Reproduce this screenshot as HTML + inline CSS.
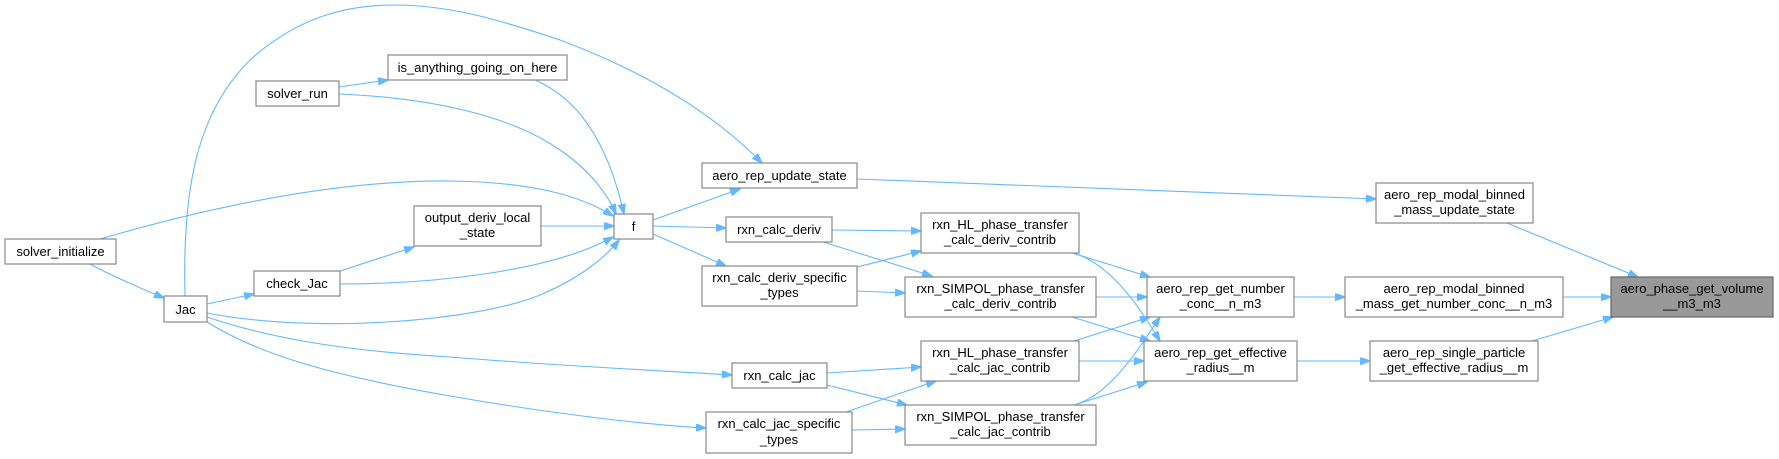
<!DOCTYPE html>
<html><head><meta charset="utf-8"><style>
html,body{margin:0;padding:0;background:#fff;}
svg{display:block;}
text{font-family:"Liberation Sans",Arial,sans-serif;font-size:13px;fill:#000;text-anchor:middle;}
.e{fill:none;stroke:#63b8ff;stroke-width:1.1;marker-end:url(#a);}
.n{fill:#fff;stroke:#888;stroke-width:1.2;}
</style></head><body>
<svg width="1779" height="459" viewBox="0 0 1779 459" xmlns="http://www.w3.org/2000/svg">
<defs><marker id="a" markerWidth="11" markerHeight="8" refX="10" refY="3.7" orient="auto" markerUnits="userSpaceOnUse"><path d="M0,0 L10.5,3.7 L0,7.4 z" fill="#63b8ff" stroke="#63b8ff"/></marker></defs>
<g>
<path class="e" d="M90,264 C110,275 140,288 164,298"/>
<path class="e" d="M100,239 C200,210 330,180 450,181 C530,182 580,195 613,216"/>
<path class="e" d="M207,304 L254,294"/>
<path class="e" d="M207,313 C320,335 480,320 540,295 C580,278 605,258 619,240"/>
<path class="e" d="M207,317 C260,335 330,350 450,357 C560,366 650,370 732,375"/>
<path class="e" d="M207,322 C260,355 330,375 450,396 C560,415 650,425 706,428"/>
<path class="e" d="M185,296 C182,180 200,110 250,60 C300,15 350,5 394,5 C450,5 500,20 560,40 C640,70 710,110 762,163"/>
<path class="e" d="M339,87 L388,80"/>
<path class="e" d="M339,94 C430,98 510,115 560,150 C590,170 608,195 616,214"/>
<path class="e" d="M535,80 C570,95 605,130 624,214"/>
<path class="e" d="M340,271 L414,247"/>
<path class="e" d="M340,284 C430,284 550,272 613,237"/>
<path class="e" d="M541,226 L614,226"/>
<path class="e" d="M653,220 L740,189"/>
<path class="e" d="M653,226 L726,228"/>
<path class="e" d="M653,234 L726,266"/>
<path class="e" d="M832,230 L921,231"/>
<path class="e" d="M823,242 L932,276"/>
<path class="e" d="M857,267 L921,251"/>
<path class="e" d="M857,291 L905,293"/>
<path class="e" d="M827,373 L921,367"/>
<path class="e" d="M827,385 L907,405"/>
<path class="e" d="M843,413 L936,381"/>
<path class="e" d="M852,430 L905,429"/>
<path class="e" d="M1072,253 L1150,277"/>
<path class="e" d="M1074,253 C1110,265 1135,300 1160,341"/>
<path class="e" d="M1096,297 L1147,297"/>
<path class="e" d="M1072,317 L1150,341"/>
<path class="e" d="M1074,341 L1150,317"/>
<path class="e" d="M1079,361 L1144,361"/>
<path class="e" d="M1074,405 C1110,395 1138,350 1160,317"/>
<path class="e" d="M1074,405 L1147,382"/>
<path class="e" d="M1294,297 L1345,297"/>
<path class="e" d="M1297,361 L1370,361"/>
<path class="e" d="M857,179 L1376,199"/>
<path class="e" d="M1507,223 L1638,277"/>
<path class="e" d="M1563,297 L1611,297"/>
<path class="e" d="M1532,341 L1613,317"/>
</g>
<g>
<rect class="n" x="5" y="239" width="111" height="25"/><text x="60.5" y="256">solver_initialize</text>
<rect class="n" x="164" y="296" width="43" height="26"/><text x="185.5" y="314">Jac</text>
<rect class="n" x="256" y="81" width="83" height="25"/><text x="297.5" y="98">solver_run</text>
<rect class="n" x="388" y="55" width="179" height="25"/><text x="477.5" y="72">is_anything_going_on_here</text>
<rect class="n" x="254" y="271" width="86" height="25"/><text x="297" y="288">check_Jac</text>
<rect class="n" x="414" y="206" width="127" height="40"/><text x="477.5" y="222">output_deriv_local</text><text x="477.5" y="237">_state</text>
<rect class="n" x="614" y="214" width="39" height="25"/><text x="633.5" y="231">f</text>
<rect class="n" x="702" y="163" width="155" height="25"/><text x="779.5" y="180">aero_rep_update_state</text>
<rect class="n" x="726" y="217" width="106" height="25"/><text x="779" y="234">rxn_calc_deriv</text>
<rect class="n" x="702" y="266" width="155" height="40"/><text x="779.5" y="282">rxn_calc_deriv_specific</text><text x="779.5" y="297">_types</text>
<rect class="n" x="732" y="363" width="95" height="25"/><text x="779.5" y="380">rxn_calc_jac</text>
<rect class="n" x="706" y="412" width="146" height="41"/><text x="779" y="428">rxn_calc_jac_specific</text><text x="779" y="444">_types</text>
<rect class="n" x="921" y="213" width="158" height="40"/><text x="1000" y="229">rxn_HL_phase_transfer</text><text x="1000" y="244">_calc_deriv_contrib</text>
<rect class="n" x="905" y="277" width="191" height="40"/><text x="1000.5" y="293">rxn_SIMPOL_phase_transfer</text><text x="1000.5" y="308">_calc_deriv_contrib</text>
<rect class="n" x="921" y="341" width="158" height="40"/><text x="1000" y="357">rxn_HL_phase_transfer</text><text x="1000" y="372">_calc_jac_contrib</text>
<rect class="n" x="905" y="405" width="191" height="40"/><text x="1000.5" y="421">rxn_SIMPOL_phase_transfer</text><text x="1000.5" y="436">_calc_jac_contrib</text>
<rect class="n" x="1147" y="277" width="147" height="40"/><text x="1220.5" y="293">aero_rep_get_number</text><text x="1220.5" y="308">_conc__n_m3</text>
<rect class="n" x="1144" y="341" width="153" height="40"/><text x="1220.5" y="357">aero_rep_get_effective</text><text x="1220.5" y="372">_radius__m</text>
<rect class="n" x="1376" y="183" width="157" height="40"/><text x="1454.5" y="199">aero_rep_modal_binned</text><text x="1454.5" y="214">_mass_update_state</text>
<rect class="n" x="1345" y="277" width="218" height="40"/><text x="1454" y="293">aero_rep_modal_binned</text><text x="1454" y="308">_mass_get_number_conc__n_m3</text>
<rect class="n" x="1370" y="341" width="168" height="40"/><text x="1454" y="357">aero_rep_single_particle</text><text x="1454" y="372">_get_effective_radius__m</text>
<rect x="1611" y="277" width="162" height="40" fill="#999" stroke="#666" stroke-width="1.2"/><text x="1692" y="293">aero_phase_get_volume</text><text x="1692" y="308">__m3_m3</text>
</g>
</svg>
</body></html>
